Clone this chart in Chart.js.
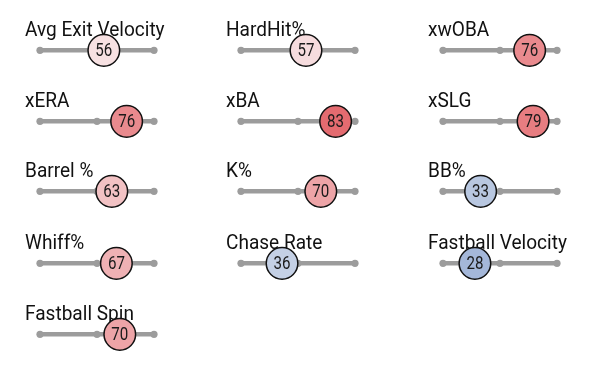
<!DOCTYPE html>
<html><head><meta charset="utf-8">
<script src="https://cdn.jsdelivr.net/npm/chart.js@4"></script>
<style>
html,body{margin:0;padding:0;background:#fff;width:591px;height:367px;overflow:hidden}
#wrap{position:relative;width:591px;height:367px}
.cell{position:absolute}
</style></head><body><div id="wrap"></div>
<script>
const metrics = ['Avg Exit Velocity','HardHit%','xwOBA','xERA','xBA','xSLG','Barrel %','K%','BB%','Whiff%','Chase Rate','Fastball Velocity','Fastball Spin'];
const percentiles = [56,57,76,76,83,79,63,70,33,67,36,28,70];
const trackTicks = [0,50,100];
const colorStops = [[0,'#3661ad'],[50,'#fbfbfb'],[100,'#d82129']];

const colLeft = [40,241,443];
const rowY = [52,123,193,265,336];
const TRACK_W = 114, PAD_L = 20, CW = 190, CH = 64, AXIS_Y = 40;

function hex(h){return [1,3,5].map(i=>parseInt(h.substr(i,2),16));}
function colorFor(v){
  for(let i=0;i<colorStops.length-1;i++){
    const [a,ca]=colorStops[i],[b,cb]=colorStops[i+1];
    if(v>=a&&v<=b){
      const t=(v-a)/(b-a),A=hex(ca),B=hex(cb);
      return 'rgb('+A.map((x,k)=>Math.round(x+(B[k]-x)*t)).join(',')+')';
    }
  }
  return colorStops[colorStops.length-1][1];
}

function drawScaled(ctx,text,x,y,sx,align){
  ctx.save();
  ctx.translate(x,y);
  ctx.scale(sx,1);
  ctx.textAlign=align;
  ctx.fillText(text,0,0);
  ctx.restore();
}

const wrap=document.getElementById('wrap');
metrics.forEach((name,i)=>{
  const c=i%3, r=Math.floor(i/3);
  const div=document.createElement('div');
  div.className='cell';
  div.style.left=(colLeft[c]-PAD_L)+'px';
  div.style.top=(rowY[r]-AXIS_Y)+'px';
  const cv=document.createElement('canvas');
  cv.width=CW; cv.height=CH;
  cv.style.width=CW+'px'; cv.style.height=CH+'px';
  div.appendChild(cv); wrap.appendChild(div);
  const val=percentiles[i];
  const titlePlugin={
    id:'t',
    beforeDatasetsDraw(chart){
      const ctx=chart.ctx;
      ctx.save();
      ctx.fillStyle='#111';
      ctx.font='20.5px Roboto';
      ctx.textBaseline='alphabetic';
      drawScaled(ctx,name,chart.chartArea.left-15,chart.chartArea.top+(AXIS_Y-30)-16.5,0.93,'left');
      ctx.restore();
    },
    afterDatasetsDraw(chart){
      const ctx=chart.ctx;
      const pt=chart.getDatasetMeta(1).data[0];
      ctx.save();
      ctx.fillStyle='#1a1a1a';
      ctx.font='18px Roboto';
      ctx.textBaseline='middle';
      drawScaled(ctx,String(val),pt.x,pt.y+1,0.84,'center');
      ctx.restore();
    }
  };
  new Chart(cv,{
    type:'scatter',
    data:{datasets:[
      {data:trackTicks.map(x=>({x,y:0})),showLine:true,borderColor:'#9c9c9c',borderWidth:4.5,
       pointRadius:3.6,pointBackgroundColor:'#9c9c9c',pointBorderWidth:0,clip:false,order:2},
      {data:[{x:val,y:0}],pointRadius:15.8,pointBackgroundColor:colorFor(val),
       pointBorderColor:'#111',pointBorderWidth:1.5,clip:false,order:1}
    ]},
    options:{
      responsive:false,animation:false,events:[],
      layout:{padding:{left:PAD_L,right:CW-PAD_L-TRACK_W,top:30,bottom:CH-AXIS_Y-10}},
      plugins:{legend:{display:false},tooltip:{enabled:false},title:{display:false}},
      scales:{x:{type:'linear',min:0,max:100,display:false},y:{min:-1,max:1,display:false}}
    },
    plugins:[titlePlugin]
  });
});
</script></body></html>
